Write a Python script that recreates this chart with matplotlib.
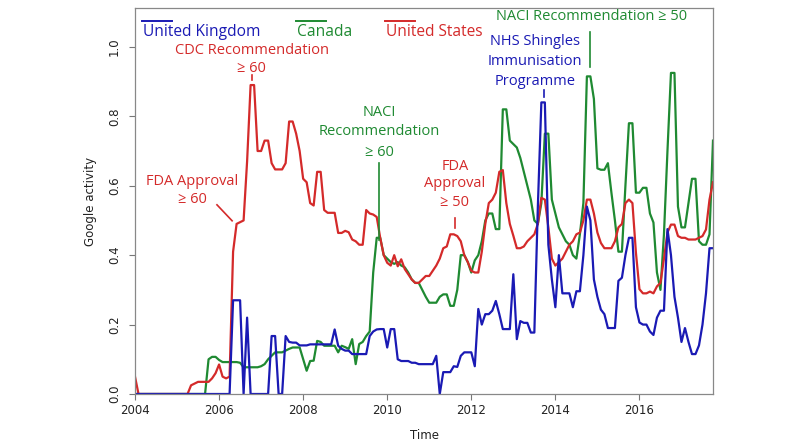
import numpy as np
import matplotlib
matplotlib.use("Agg")
from matplotlib import pyplot as plt

# monthly Google activity, Jan 2004 .. Oct 2017
start_year = 2004
uk = [0.0] * 28 + [
    0.27, 0.27, 0.27, 0.0, 0.22, 0.0, 0.0, 0.0, 0.0, 0.0, 0.0, 0.167, 0.167, 0.0, 0.0, 0.167, 0.15, 0.148, 0.148, 0.14, 0.14, 0.14,
    0.143, 0.143, 0.143, 0.143, 0.143, 0.143, 0.143, 0.186, 0.139, 0.13,
    0.125, 0.125, 0.115, 0.115, 0.115, 0.115, 0.115, 0.167, 0.18, 0.186,
    0.187, 0.187, 0.134, 0.187, 0.187, 0.10, 0.095, 0.095, 0.095, 0.09,
    0.09, 0.086, 0.086, 0.086, 0.086, 0.086, 0.11, 0.0, 0.063, 0.063,
    0.063, 0.08, 0.078, 0.11, 0.12, 0.12, 0.12, 0.08, 0.245, 0.20,
    0.23, 0.23, 0.24, 0.268, 0.23, 0.187, 0.187, 0.187, 0.345, 0.158,
    0.21, 0.205, 0.205, 0.177, 0.177, 0.54, 0.84, 0.84, 0.43, 0.33,
    0.25, 0.40, 0.29, 0.29, 0.29, 0.25, 0.296, 0.296, 0.40, 0.54,
    0.50, 0.33, 0.28, 0.243, 0.23, 0.19, 0.19, 0.19, 0.326, 0.335,
    0.40, 0.45, 0.45, 0.25, 0.206, 0.20, 0.20, 0.18, 0.17, 0.22,
    0.24, 0.24, 0.475, 0.40, 0.28, 0.22, 0.15, 0.19, 0.15, 0.115,
    0.115, 0.14, 0.20, 0.29, 0.42, 0.42]

canada = [0.0] * 21 + [
    0.10, 0.107, 0.107, 0.098, 0.092, 0.092, 0.092, 0.092, 0.092,
    0.09, 0.077, 0.077, 0.077, 0.077, 0.077, 0.08, 0.086, 0.10, 0.11,
    0.12, 0.12, 0.12, 0.125, 0.13, 0.134, 0.134, 0.134, 0.10, 0.067,
    0.095, 0.096, 0.153, 0.15, 0.139, 0.139, 0.139, 0.139, 0.12, 0.139,
    0.135, 0.13, 0.158, 0.086, 0.144, 0.15, 0.167, 0.18, 0.35, 0.45,
    0.45, 0.40, 0.39, 0.38, 0.375, 0.38, 0.37, 0.365, 0.35, 0.33,
    0.32, 0.32, 0.30, 0.28, 0.263, 0.263, 0.263, 0.28, 0.287, 0.287,
    0.254, 0.254, 0.30, 0.40, 0.40, 0.38, 0.35, 0.385, 0.40, 0.44,
    0.50, 0.52, 0.52, 0.475, 0.475, 0.82, 0.82, 0.73, 0.72, 0.71,
    0.68, 0.64, 0.60, 0.56, 0.50, 0.49, 0.55, 0.75, 0.75, 0.56,
    0.52, 0.48, 0.46, 0.44, 0.43, 0.40, 0.39, 0.46, 0.55, 0.915,
    0.915, 0.85, 0.65, 0.646, 0.646, 0.665, 0.58, 0.50, 0.41, 0.41,
    0.60, 0.78, 0.78, 0.58, 0.58, 0.594, 0.594, 0.52, 0.494, 0.35,
    0.30, 0.46, 0.70, 0.925, 0.925, 0.54, 0.48, 0.48, 0.55, 0.62,
    0.62, 0.44, 0.43, 0.43, 0.46, 0.73]

us = [0.05] + [0.0] * 15 + [
    0.025, 0.03, 0.035, 0.035, 0.035, 0.035, 0.045, 0.06, 0.085, 0.05, 0.045, 0.05, 0.41, 0.49,
    0.495, 0.50, 0.67, 0.89, 0.89, 0.70, 0.70, 0.73, 0.73, 0.665,
    0.647, 0.647, 0.647, 0.665, 0.785, 0.785, 0.75, 0.70, 0.62, 0.61,
    0.55, 0.543, 0.64, 0.64, 0.53, 0.522, 0.522, 0.522, 0.464, 0.464,
    0.47, 0.466, 0.445, 0.44, 0.43, 0.43, 0.53, 0.52, 0.517, 0.51,
    0.45, 0.40, 0.378, 0.37, 0.40, 0.368, 0.388, 0.36, 0.345, 0.33,
    0.32, 0.32, 0.33, 0.34, 0.34, 0.355, 0.37, 0.39, 0.42, 0.425,
    0.46, 0.46, 0.455, 0.44, 0.40, 0.38, 0.355, 0.35, 0.35, 0.41,
    0.49, 0.55, 0.56, 0.58, 0.64, 0.645, 0.55, 0.49, 0.456, 0.42,
    0.42, 0.425, 0.44, 0.45, 0.46, 0.49, 0.565, 0.56, 0.48, 0.39,
    0.37, 0.38, 0.39, 0.41, 0.43, 0.44, 0.46, 0.465, 0.50, 0.56,
    0.56, 0.52, 0.465, 0.435, 0.42, 0.42, 0.42, 0.44, 0.48, 0.49,
    0.55, 0.56, 0.55, 0.407, 0.302, 0.29, 0.29, 0.295, 0.29, 0.31,
    0.32, 0.39, 0.465, 0.488, 0.488, 0.455, 0.45, 0.45, 0.445, 0.445,
    0.445, 0.45, 0.455, 0.474, 0.56, 0.61]

series_names = ["United Kingdom", "Canada", "United States"]
blue = "#1a1ab4"
green = "#1f8a32"
red = "#d42a2a"

t = start_year + np.arange(len(us)) / 12.0

fig = plt.figure(figsize=(8, 4.44), dpi=100)
ax = fig.add_axes([135 / 800, 50 / 444, 578 / 800, 386 / 444])

ax.plot(t, canada, color=green, lw=1.6)
ax.plot(t, us, color=red, lw=1.6)
ax.plot(t, uk, color=blue, lw=1.6)

ax.set_xlim(2004, t[-1])
ax.set_ylim(0, 1.112)
ax.set_xticks(range(2004, 2017, 2))
ax.set_yticks(np.arange(0, 1.01, 0.2))
ax.set_yticklabels(["%.1f" % v for v in np.arange(0, 1.01, 0.2)], rotation=90, va="center")
ax.tick_params(direction="out", length=4, color="#777777", labelsize=8.5, labelcolor="#222222")
ax.tick_params(axis="y", pad=6)
for s in ax.spines.values():
    s.set_color("#888888")
    s.set_linewidth(0.9)
ax.set_xlabel("Time", fontsize=8.5, color="#222222", labelpad=8)
ax.set_ylabel("Google activity", fontsize=8.5, color="#222222", labelpad=8)

fam = ["Open Sans", "DejaVu Sans"]
afs = 10.5

# legend-like header
leg_x = [0.012, 0.2785, 0.4325]
for x0, name, col in zip(leg_x, series_names, [blue, green, red]):
    ax.plot([x0, x0 + 0.052], [0.967, 0.967], color=col, lw=1.4, transform=ax.transAxes, clip_on=False)
    ax.text(x0 + 0.001, 0.937, name, color=col, fontsize=11.2, family=fam, transform=ax.transAxes,
            ha="left", va="center")

# annotations
ax.text(2006.78, 0.991, "CDC Recommendation", color=red, fontsize=afs, family=fam, ha="center", va="center")
ax.text(2006.78, 0.939, "\u2265 60", color=red, fontsize=afs, family=fam, ha="center", va="center")
ax.plot([2006.79, 2006.79], [0.905, 0.92], color=red, lw=1.2)

ax.text(2005.36, 0.611, "FDA Approval", color=red, fontsize=afs, family=fam, ha="center", va="center")
ax.text(2005.36, 0.559, "\u2265 60", color=red, fontsize=afs, family=fam, ha="center", va="center")
ax.plot([2005.95, 2006.31], [0.545, 0.499], color=red, lw=1.2)

ax.text(2009.82, 0.81, "NACI", color=green, fontsize=afs, family=fam, ha="center", va="center")
ax.text(2009.82, 0.755, "Recommendation", color=green, fontsize=afs, family=fam, ha="center", va="center")
ax.text(2009.82, 0.697, "\u2265 60", color=green, fontsize=afs, family=fam, ha="center", va="center")
ax.plot([2009.81, 2009.81], [0.666, 0.444], color=green, lw=1.2)

ax.text(2011.61, 0.656, "FDA", color=red, fontsize=afs, family=fam, ha="center", va="center")
ax.text(2011.61, 0.605, "Approval", color=red, fontsize=afs, family=fam, ha="center", va="center")
ax.text(2011.61, 0.553, "\u2265 50", color=red, fontsize=afs, family=fam, ha="center", va="center")
ax.plot([2011.61, 2011.61], [0.507, 0.478], color=red, lw=1.2)

ax.text(2013.52, 1.015, "NHS Shingles", color=blue, fontsize=afs, family=fam, ha="center", va="center")
ax.text(2013.52, 0.958, "Immunisation", color=blue, fontsize=afs, family=fam, ha="center", va="center")
ax.text(2013.52, 0.9, "Programme", color=blue, fontsize=afs, family=fam, ha="center", va="center")
ax.plot([2013.73, 2013.73], [0.877, 0.857], color=blue, lw=1.2)

ax.text(2014.85, 1.087, "NACI Recommendation \u2265 50", color=green, fontsize=afs, family=fam, ha="center", va="center")
ax.plot([2014.82, 2014.82], [1.043, 0.942], color=green, lw=1.2)

fig.savefig("out.png", dpi=100)
